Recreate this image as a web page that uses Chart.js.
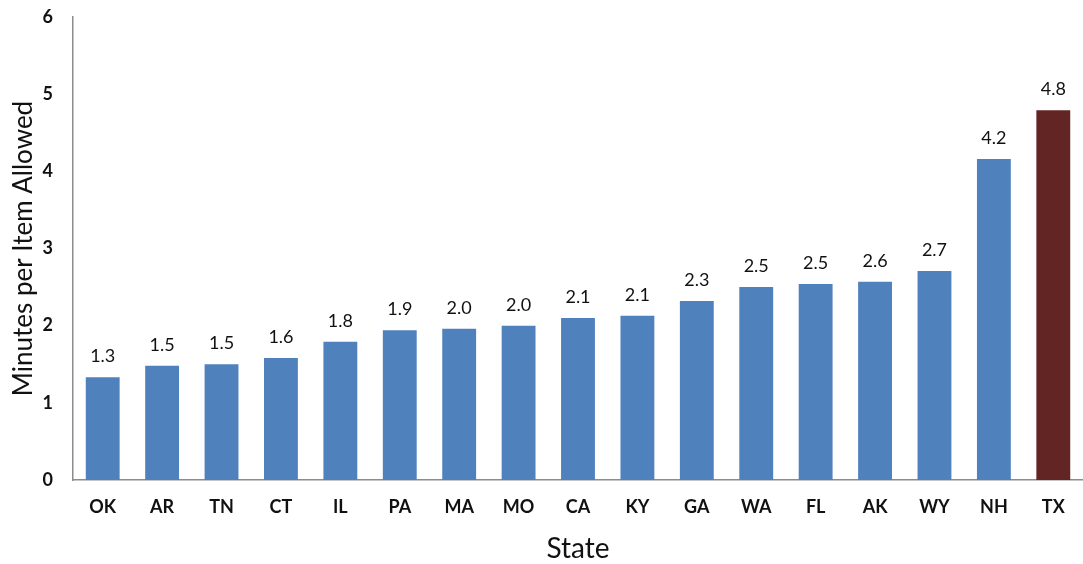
<!DOCTYPE html>
<html>
<head>
<meta charset="utf-8">
<script src="https://cdn.jsdelivr.net/npm/chart.js@4/dist/chart.umd.min.js"></script>
<style>
  html, body { margin: 0; padding: 0; background: #fff; }
  #wrap { width: 1083px; height: 564px; position: relative; }
</style>
</head>
<body>
<div id="wrap"><canvas id="chart"></canvas></div>
<script>
// Minutes allowed per test item, by state (sorted ascending)
const states = ['OK', 'AR', 'TN', 'CT', 'IL', 'PA', 'MA', 'MO', 'CA', 'KY', 'GA', 'WA', 'FL', 'AK', 'WY', 'NH', 'TX'];
const minutesPerItem = [1.33, 1.48, 1.50, 1.58, 1.79, 1.94, 1.96, 2.00, 2.10, 2.13, 2.32, 2.50, 2.54, 2.57, 2.71, 4.16, 4.79];
const highlightState = 'TX';
const yTicks = [0, 1, 2, 3, 4, 5, 6];

const baseColor = '#4F81BD';
const highlightColor = '#632523';
const fontFamily = 'Lato, "Open Sans", sans-serif';

// Value labels drawn above each bar
const valueLabels = {
  id: 'valueLabels',
  afterDatasetsDraw(chart) {
    const ctx = chart.ctx;
    const meta = chart.getDatasetMeta(0);
    ctx.save();
    ctx.font = '18px ' + fontFamily;
    ctx.fillStyle = '#111';
    ctx.textAlign = 'center';
    ctx.textBaseline = 'alphabetic';
    meta.data.forEach((bar, i) => {
      const v = chart.data.datasets[0].data[i];
      ctx.fillText(v.toFixed(1), bar.x, bar.y - 15);
    });
    ctx.restore();
  }
};

new Chart(document.getElementById('chart'), {
  type: 'bar',
  data: {
    labels: states,
    datasets: [{
      data: minutesPerItem,
      backgroundColor: states.map(s => s === highlightState ? highlightColor : baseColor),
      borderWidth: 0,
      barPercentage: 0.57,
      categoryPercentage: 1.0
    }]
  },
  options: {
    responsive: true,
    maintainAspectRatio: false,
    animation: false,
    layout: { padding: { top: 17, right: 0, left: 0, bottom: 0 } },
    plugins: {
      legend: { display: false },
      tooltip: { enabled: false }
    },
    scales: {
      x: {
        grid: { display: false, drawTicks: false },
        border: { display: true, color: '#8c8c8c', width: 1.5 },
        ticks: {
          color: '#111',
          padding: 16,
          font: { family: fontFamily, size: 18, weight: 'bold' }
        },
        title: {
          display: true,
          text: 'State',
          color: '#111',
          padding: { top: 0, bottom: -2 },
          font: { family: fontFamily, size: 28 }
        },
        afterFit(scale) { scale.height = 84; }
      },
      y: {
        min: 0,
        max: 6,
        afterBuildTicks(scale) { scale.ticks = yTicks.map(v => ({ value: v })); },
        grid: { display: false, drawTicks: false },
        border: { display: true, color: '#8c8c8c', width: 1.5 },
        ticks: {
          color: '#111',
          padding: 20,
          font: { family: fontFamily, size: 18, weight: 'bold' }
        },
        title: {
          display: true,
          text: 'Minutes per Item Allowed',
          color: '#111',
          padding: { top: 8, bottom: 0 },
          font: { family: fontFamily, size: 26 }
        },
        afterFit(scale) {
          scale.width = 73;
          // the plot top/bottom edges are set by the layout padding alone
          scale.paddingTop = 0;
          scale.paddingBottom = 0;
        }
      }
    }
  },
  plugins: [valueLabels]
});
</script>
</body>
</html>
